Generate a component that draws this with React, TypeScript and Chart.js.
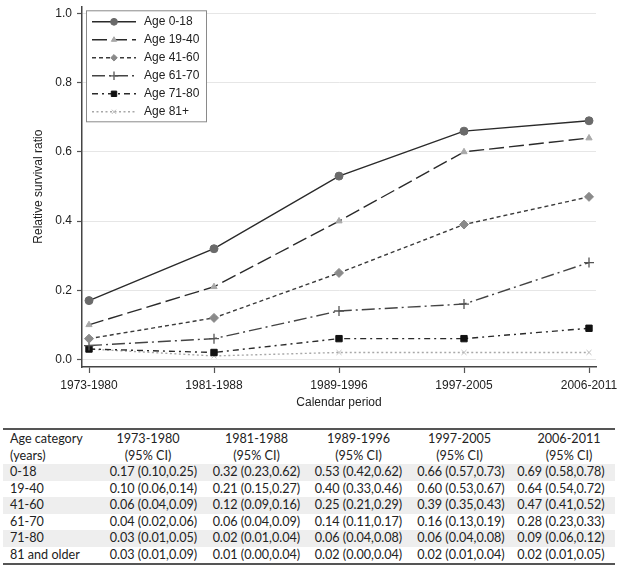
import React, { useEffect, useRef } from 'react';
import { Chart, registerables } from 'chart.js';

Chart.register(...registerables);

// ---------- data ----------
const periods = ['1973-1980', '1981-1988', '1989-1996', '1997-2005', '2006-2011'];
const ageGroups = ['0-18', '19-40', '41-60', '61-70', '71-80', '81 and older'];
const seriesLabels = ['Age 0-18', 'Age 19-40', 'Age 41-60', 'Age 61-70', 'Age 71-80', 'Age 81+'];

const est0_18 = [0.17, 0.32, 0.53, 0.66, 0.69];
const est19_40 = [0.10, 0.21, 0.40, 0.60, 0.64];
const est41_60 = [0.06, 0.12, 0.25, 0.39, 0.47];
const est61_70 = [0.04, 0.06, 0.14, 0.16, 0.28];
const est71_80 = [0.03, 0.02, 0.06, 0.06, 0.09];
const est81 = [0.03, 0.01, 0.02, 0.02, 0.02];

const lo0_18 = [0.10, 0.23, 0.42, 0.57, 0.58];
const hi0_18 = [0.25, 0.62, 0.62, 0.73, 0.78];
const lo19_40 = [0.06, 0.15, 0.33, 0.53, 0.54];
const hi19_40 = [0.14, 0.27, 0.46, 0.67, 0.72];
const lo41_60 = [0.04, 0.09, 0.21, 0.35, 0.41];
const hi41_60 = [0.09, 0.16, 0.29, 0.43, 0.52];
const lo61_70 = [0.02, 0.04, 0.11, 0.13, 0.23];
const hi61_70 = [0.06, 0.09, 0.17, 0.19, 0.33];
const lo71_80 = [0.01, 0.01, 0.04, 0.04, 0.06];
const hi71_80 = [0.05, 0.04, 0.08, 0.08, 0.12];
const lo81 = [0.01, 0.00, 0.00, 0.01, 0.01];
const hi81 = [0.09, 0.04, 0.04, 0.04, 0.05];

const yTickValues = [0, 0.2, 0.4, 0.6, 0.8, 1.0];

const estimates = [est0_18, est19_40, est41_60, est61_70, est71_80, est81];
const lows = [lo0_18, lo19_40, lo41_60, lo61_70, lo71_80, lo81];
const highs = [hi0_18, hi19_40, hi41_60, hi61_70, hi71_80, hi81];

// ---------- styles ----------
const FONT = "'Liberation Sans', Arial, Helvetica, sans-serif";
const seriesStyles = [
  { color: '#2a2a2a', dash: [], point: 'circle', radius: 4, fill: '#6a6a6a', stroke: '#6a6a6a', pbw: 1 },
  { color: '#2a2a2a', dash: [15, 5], point: 'triangle', radius: 3.6, fill: '#a8a8a8', stroke: '#a8a8a8', pbw: 1 },
  { color: '#3a3a3a', dash: [4, 3], point: 'rectRot', radius: 4.5, fill: '#8a8a8a', stroke: '#8a8a8a', pbw: 1 },
  { color: '#444444', dash: [13, 4, 2, 4], point: 'cross', radius: 5, fill: '#555555', stroke: '#555555', pbw: 1.3 },
  { color: '#2a2a2a', dash: [6, 4, 2, 4], point: 'rect', radius: 4.5, fill: '#111111', stroke: '#111111', pbw: 1 },
  { color: '#a8a8a8', dash: [2, 2.5], point: 'crossRot', radius: 3.5, fill: '#bdbdbd', stroke: '#bdbdbd', pbw: 1 },
];

function drawMarker(ctx: CanvasRenderingContext2D, style: string, x: number, y: number, r: number, fill: string, stroke: string, bw: number) {
  ctx.save();
  ctx.setLineDash([]);
  ctx.fillStyle = fill;
  ctx.strokeStyle = stroke;
  ctx.lineWidth = bw;
  ctx.beginPath();
  if (style === 'circle') {
    ctx.arc(x, y, r, 0, Math.PI * 2);
    ctx.fill();
    ctx.stroke();
  } else if (style === 'triangle') {
    let a = 0;
    ctx.moveTo(x + Math.sin(a) * r, y - Math.cos(a) * r);
    a += (2 * Math.PI) / 3;
    ctx.lineTo(x + Math.sin(a) * r, y - Math.cos(a) * r);
    a += (2 * Math.PI) / 3;
    ctx.lineTo(x + Math.sin(a) * r, y - Math.cos(a) * r);
    ctx.closePath();
    ctx.fill();
    ctx.stroke();
  } else if (style === 'rectRot') {
    const s = r * 0.85;
    ctx.moveTo(x, y - s);
    ctx.lineTo(x + s, y);
    ctx.lineTo(x, y + s);
    ctx.lineTo(x - s, y);
    ctx.closePath();
    ctx.fill();
    ctx.stroke();
  } else if (style === 'rect') {
    const s = r * Math.SQRT1_2;
    ctx.rect(x - s, y - s, 2 * s, 2 * s);
    ctx.fill();
    ctx.stroke();
  } else if (style === 'cross') {
    ctx.moveTo(x, y - r);
    ctx.lineTo(x, y + r);
    ctx.moveTo(x - r, y);
    ctx.lineTo(x + r, y);
    ctx.stroke();
  } else if (style === 'crossRot') {
    const s = r * Math.SQRT1_2;
    ctx.moveTo(x - s, y - s);
    ctx.lineTo(x + s, y + s);
    ctx.moveTo(x + s, y - s);
    ctx.lineTo(x - s, y + s);
    ctx.stroke();
  }
  ctx.restore();
}

const insideLegend = {
  id: 'insideLegend',
  afterDraw(chart: any) {
    const ctx: CanvasRenderingContext2D = chart.ctx;
    const x0 = chart.chartArea.left + 4;
    const y0 = chart.chartArea.top + 4;
    const w = 120;
    const h = 111;
    ctx.save();
    ctx.fillStyle = '#ffffff';
    ctx.fillRect(x0, y0, w, h);
    ctx.strokeStyle = '#8a8a8a';
    ctx.lineWidth = 1;
    ctx.strokeRect(x0 + 0.5, y0 + 0.5, w, h);
    seriesStyles.forEach((st, i) => {
      const y = y0 + 11.5 + 18 * i;
      ctx.setLineDash(st.dash);
      ctx.strokeStyle = st.color;
      ctx.lineWidth = 1.4;
      ctx.beginPath();
      ctx.moveTo(x0 + 6, y);
      ctx.lineTo(x0 + 50, y);
      ctx.stroke();
      drawMarker(ctx, st.point, x0 + 28, y, st.radius * 0.85, st.fill, st.stroke, st.pbw);
      ctx.setLineDash([]);
      ctx.fillStyle = '#222';
      ctx.font = `12px ${FONT}`;
      ctx.textBaseline = 'middle';
      ctx.textAlign = 'left';
      ctx.fillText(seriesLabels[i], x0 + 58, y);
    });
    ctx.restore();
  },
};

// table layout constants
const colWidths = [102, 100, 103, 101, 104, 102];
const headerPad = [
  { paddingLeft: 7 },
  { paddingRight: 14 },
  {},
  {},
  { paddingRight: 3 },
  { paddingLeft: 10 },
];
const valuePad = [
  { paddingLeft: 7 },
  { paddingRight: 3 },
  {},
  {},
  {},
  { paddingRight: 6 },
];

const fmt = (v: number) => v.toFixed(2);

export default function App() {
  const ref = useRef<HTMLCanvasElement>(null);

  useEffect(() => {
    const datasets = estimates.map((vals, i) => {
      const st = seriesStyles[i];
      return {
        label: seriesLabels[i],
        data: vals.map((v, j) => ({ x: j, y: v })),
        borderColor: st.color,
        borderWidth: 1.4,
        borderDash: st.dash,
        fill: false,
        tension: 0,
        pointStyle: st.point,
        pointRadius: st.radius,
        pointBackgroundColor: st.fill,
        pointBorderColor: st.stroke,
        pointBorderWidth: st.pbw,
      };
    });

    const chart = new Chart(ref.current as HTMLCanvasElement, {
      type: 'line',
      data: { datasets } as any,
      options: {
        animation: false,
        responsive: false,
        devicePixelRatio: 1,
        layout: { padding: { top: 2, right: 21, left: 0, bottom: 0 } },
        plugins: { legend: { display: false }, tooltip: { enabled: false } },
        scales: {
          x: {
            type: 'linear',
            min: -0.056,
            max: 4.056,
            afterBuildTicks: (s: any) => {
              s.ticks = periods.map((_, i) => ({ value: i }));
            },
            afterFit: (s: any) => {
              s.height = 51;
              s.paddingLeft = 0;
              s.paddingRight = 0;
            },
            ticks: {
              callback: (v: any) => periods[v as number],
              font: { family: FONT, size: 12 },
              color: '#222',
              padding: 5,
              maxRotation: 0,
              autoSkip: false,
            },
            grid: { drawOnChartArea: false, tickLength: 6, tickColor: '#555', tickWidth: 1.2 },
            border: { color: '#444', width: 1.5 },
            title: {
              display: true,
              text: 'Calendar period',
              font: { family: FONT, size: 12 },
              color: '#222',
              padding: { top: 0, bottom: 8 },
            },
          },
          y: {
            type: 'linear',
            min: -0.022,
            max: 1.021,
            afterBuildTicks: (s: any) => {
              s.ticks = yTickValues.map((v) => ({ value: v }));
            },
            afterFit: (s: any) => {
              s.width = 82;
              s.paddingTop = 0;
              s.paddingBottom = 0;
            },
            ticks: {
              callback: (v: any) => Number(v).toFixed(1),
              font: { family: FONT, size: 12 },
              color: '#222',
              padding: 5,
            },
            grid: { color: '#e6e6e6', lineWidth: 1, tickLength: 5, tickColor: '#555', tickWidth: 1.2 },
            border: { color: '#444', width: 1.5 },
            title: {
              display: true,
              text: 'Relative survival ratio',
              font: { family: FONT, size: 12 },
              color: '#222',
              padding: { top: 31, bottom: 0 },
            },
          },
        },
      } as any,
      plugins: [insideLegend],
    });
    return () => chart.destroy();
  }, []);

  const cellBase: React.CSSProperties = {
    padding: 0,
    fontWeight: 'normal',
    whiteSpace: 'nowrap',
    overflow: 'visible',
  };

  return (
    <div
      style={{
        position: 'absolute',
        left: 0,
        top: 0,
        width: 617,
        height: 571,
        background: '#fff',
        overflow: 'hidden',
      }}
    >
      <canvas
        ref={ref}
        width={617}
        height={418}
        style={{ position: 'absolute', left: 0, top: 0, width: 617, height: 418 }}
      />
      <table
        style={{
          position: 'absolute',
          left: 3,
          top: 428,
          width: 612,
          borderCollapse: 'collapse',
          tableLayout: 'fixed',
          fontFamily: 'Lato, sans-serif',
          fontSize: 12.6,
          color: '#222',
          borderTop: '2px solid #555',
          borderBottom: '2px solid #555',
        }}
      >
        <colgroup>
          {colWidths.map((w, i) => (
            <col key={i} style={{ width: w }} />
          ))}
        </colgroup>
        <thead>
          <tr>
            <th style={{ ...cellBase, ...headerPad[0], textAlign: 'left', lineHeight: '17px' }}>
              Age category
              <br />
              (years)
            </th>
            {periods.map((p, i) => (
              <th key={p} style={{ ...cellBase, ...headerPad[i + 1], textAlign: 'center', lineHeight: '17px' }}>
                {p}
                <br />
                (95% CI)
              </th>
            ))}
          </tr>
        </thead>
        <tbody>
          {ageGroups.map((g, r) => (
            <tr key={g} style={{ background: r % 2 === 0 ? '#eeeeee' : '#ffffff' }}>
              <td style={{ ...cellBase, ...valuePad[0], textAlign: 'left', lineHeight: '16.5px', height: 16.5 }}>{g}</td>
              {periods.map((p, c) => (
                <td
                  key={p}
                  style={{ ...cellBase, ...valuePad[c + 1], textAlign: 'center', lineHeight: '16.5px', height: 16.5 }}
                >
                  {`${fmt(estimates[r][c])} (${fmt(lows[r][c])},${fmt(highs[r][c])})`}
                </td>
              ))}
            </tr>
          ))}
        </tbody>
      </table>
    </div>
  );
}
